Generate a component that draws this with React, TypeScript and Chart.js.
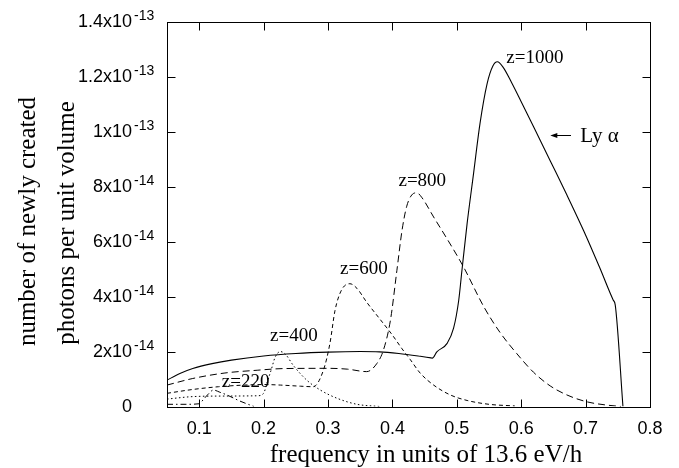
import { useEffect, useRef } from "react";
import { Chart, registerables } from "chart.js";

Chart.register(...registerables);

const UNIT = 1e-14;
const X_MIN = 0.05;
const X_MAX = 0.8;
const Y_MAX = 14; // in units of 1e-14

// z = 1000 (solid)
const z1000X = [0.05, 0.07, 0.09, 0.12, 0.15, 0.2, 0.25, 0.3, 0.35, 0.38, 0.41, 0.44, 0.46, 0.462, 0.469, 0.485, 0.495, 0.503, 0.508, 0.516, 0.526, 0.536, 0.547, 0.556, 0.563, 0.572, 0.585, 0.6, 0.62, 0.645, 0.671, 0.697, 0.722, 0.743, 0.746, 0.758];
const z1000Y = [0.96, 1.2, 1.38, 1.56, 1.69, 1.84, 1.93, 1.98, 2.0, 1.99, 1.93, 1.84, 1.77, 1.76, 1.99, 2.3, 2.85, 3.87, 4.96, 6.66, 8.48, 10.3, 11.75, 12.4, 12.55, 12.35, 11.8, 11.1, 10.15, 8.95, 7.7, 6.4, 5.05, 3.87, 3.7, 0];

// z = 800 (long dashes)
const z800X = [0.05, 0.09, 0.14, 0.19, 0.23, 0.3, 0.33, 0.36, 0.376, 0.386, 0.397, 0.407, 0.415, 0.422, 0.43, 0.438, 0.446, 0.464, 0.485, 0.51, 0.542, 0.567, 0.593, 0.619, 0.645, 0.671, 0.702, 0.73, 0.755];
const z800Y = [0.78, 1.02, 1.22, 1.32, 1.38, 1.39, 1.36, 1.27, 1.57, 2.05, 3.15, 4.96, 6.42, 7.27, 7.7, 7.78, 7.6, 6.9, 6.1, 5.1, 3.63, 2.7, 1.93, 1.25, 0.75, 0.42, 0.17, 0.06, 0.0];

// z = 600 (short dashes)
const z600X = [0.05, 0.09, 0.13, 0.17, 0.2, 0.226, 0.257, 0.277, 0.293, 0.303, 0.311, 0.321, 0.334, 0.345, 0.36, 0.38, 0.4, 0.415, 0.428, 0.443, 0.464, 0.49, 0.516, 0.55, 0.59];
const z600Y = [0.48, 0.62, 0.72, 0.78, 0.8, 0.78, 0.74, 0.72, 1.33, 2.3, 3.51, 4.24, 4.47, 4.3, 3.8, 3.2, 2.6, 2.1, 1.7, 1.22, 0.78, 0.42, 0.22, 0.08, 0.02];

// z = 400 (dotted)
const z400X = [0.05, 0.09, 0.14, 0.19, 0.2, 0.205, 0.212, 0.218, 0.226, 0.234, 0.246, 0.267, 0.288, 0.314, 0.345, 0.38];
const z400Y = [0.27, 0.36, 0.38, 0.39, 0.48, 0.84, 1.35, 1.8, 2.0, 1.9, 1.5, 0.96, 0.6, 0.3, 0.08, 0.0];

// z = 220 (dash-dot)
const z220X = [0.05, 0.08, 0.1, 0.106, 0.114, 0.122, 0.132, 0.143, 0.163, 0.185];
const z220Y = [0.08, 0.08, 0.1, 0.24, 0.45, 0.6, 0.52, 0.42, 0.2, 0.0];

const xTickValues = [0.1, 0.2, 0.3, 0.4, 0.5, 0.6, 0.7, 0.8];
const xTickLabels = ["0.1", "0.2", "0.3", "0.4", "0.5", "0.6", "0.7", "0.8"];
const yTickValues = [0, 2, 4, 6, 8, 10, 12, 14];
const yTickMantissa = ["0", "2x10", "4x10", "6x10", "8x10", "1x10", "1.2x10", "1.4x10"];
const yTickExponent = ["", "-14", "-14", "-14", "-14", "-13", "-13", "-13"];

const xTitle = "frequency in units of 13.6 eV/h";
const yTitleLines = ["number of newly created", "photons per unit volume"];

// curve labels: text, x (data), y (units of 1e-14, baseline)
const labelTexts = ["z=1000", "z=800", "z=600", "z=400", "z=220"];
const labelX = [0.5768, 0.4094, 0.3188, 0.21, 0.135];
const labelY = [12.5, 8.03, 4.82, 2.4, 0.72];
const lyText = "Ly \u03b1";
const lyX = 0.6918;
const lyY = 9.64;
const arrowFromX = 0.6773;
const arrowToX = 0.6452;
const arrowY = 9.886;

const SANS = "'Liberation Sans', Arial, sans-serif";
const SERIF = "'Liberation Serif', 'Times New Roman', serif";

function pts(xs: number[], ys: number[]) {
  return xs.map((x, i) => ({ x, y: ys[i] * UNIT }));
}

const overlay = {
  id: "overlay",
  afterDraw(chart: any) {
    const { ctx, chartArea: a, scales } = chart;
    const xs = scales.x;
    const ys = scales.y;
    ctx.save();
    ctx.strokeStyle = "#000";
    ctx.fillStyle = "#000";
    ctx.lineWidth = 1;
    ctx.setLineDash([]);
    const L = Math.round(a.left) + 0.5;
    const R = Math.round(a.right) + 0.5;
    const T = Math.round(a.top) + 0.5;
    const B = Math.round(a.bottom) + 0.5;
    ctx.strokeRect(L, T, R - L, B - T);
    const tl = 8;
    ctx.beginPath();
    xTickValues.forEach((v) => {
      const px = Math.round(xs.getPixelForValue(v)) + 0.5;
      ctx.moveTo(px, B);
      ctx.lineTo(px, B - tl);
      ctx.moveTo(px, T);
      ctx.lineTo(px, T + tl);
    });
    yTickValues.forEach((v) => {
      const py = Math.round(ys.getPixelForValue(v * UNIT)) + 0.5;
      ctx.moveTo(L, py);
      ctx.lineTo(L + tl, py);
      ctx.moveTo(R, py);
      ctx.lineTo(R - tl, py);
    });
    ctx.stroke();

    // x tick labels
    ctx.font = `18px ${SANS}`;
    ctx.textAlign = "center";
    ctx.textBaseline = "alphabetic";
    xTickValues.forEach((v, i) => {
      ctx.fillText(xTickLabels[i], xs.getPixelForValue(v), 434);
    });

    // y tick labels with superscripts
    yTickValues.forEach((v, i) => {
      const py = ys.getPixelForValue(v * UNIT);
      ctx.font = `18px ${SANS}`;
      ctx.textAlign = "right";
      ctx.fillText(yTickMantissa[i], 132, py + 5);
      if (yTickExponent[i]) {
        ctx.font = `14px ${SANS}`;
        ctx.textAlign = "left";
        ctx.fillText(yTickExponent[i], 134, py - 2);
      }
    });

    // axis titles
    ctx.font = `25px ${SERIF}`;
    ctx.textAlign = "center";
    ctx.textBaseline = "alphabetic";
    ctx.fillText(xTitle, 426, 462);
    const yPos = [
      [28.5, 221.5],
      [67.5, 223],
    ];
    yTitleLines.forEach((t, i) => {
      ctx.save();
      ctx.translate(yPos[i][0], yPos[i][1]);
      ctx.rotate(-Math.PI / 2);
      ctx.textBaseline = "middle";
      ctx.fillText(t, 0, 0);
      ctx.restore();
    });

    // curve labels
    ctx.font = `19px ${SERIF}`;
    ctx.textAlign = "left";
    ctx.textBaseline = "alphabetic";
    labelTexts.forEach((t, i) => {
      ctx.fillText(t, xs.getPixelForValue(labelX[i]), ys.getPixelForValue(labelY[i] * UNIT));
    });
    ctx.font = `21px ${SERIF}`;
    ctx.fillText(lyText, xs.getPixelForValue(lyX), ys.getPixelForValue(lyY * UNIT));

    // Ly alpha arrow
    const ay = Math.round(ys.getPixelForValue(arrowY * UNIT)) + 0.5;
    const ax0 = xs.getPixelForValue(arrowFromX);
    const ax1 = xs.getPixelForValue(arrowToX);
    ctx.beginPath();
    ctx.moveTo(ax0, ay);
    ctx.lineTo(ax1 + 4, ay);
    ctx.stroke();
    ctx.beginPath();
    ctx.moveTo(ax1, ay);
    ctx.lineTo(ax1 + 7, ay - 2.5);
    ctx.lineTo(ax1 + 7, ay + 2.5);
    ctx.closePath();
    ctx.fill();
    ctx.restore();
  },
};

function line(xs: number[], ys: number[], dash: number[], width = 1) {
  return {
    data: pts(xs, ys),
    showLine: true,
    borderColor: "#000",
    backgroundColor: "#000",
    borderWidth: width,
    borderDash: dash,
    pointRadius: 0,
    fill: false,
    cubicInterpolationMode: "monotone" as const,
  };
}

export default function App() {
  const ref = useRef<HTMLCanvasElement | null>(null);
  useEffect(() => {
    if (!ref.current) return;
    const chart = new Chart(ref.current, {
      type: "scatter",
      data: {
        datasets: [
          line(z1000X, z1000Y, [], 1.1),
          line(z800X, z800Y, [7, 4]),
          line(z600X, z600Y, [4, 3]),
          line(z400X, z400Y, [1.5, 2.5]),
          line(z220X, z220Y, [6, 3, 1.5, 3]),
        ],
      },
      options: {
        animation: false,
        responsive: false,
        maintainAspectRatio: false,
        layout: { padding: { left: 0, right: 29, top: 22, bottom: 0 } },
        plugins: { legend: { display: false }, tooltip: { enabled: false } },
        scales: {
          x: {
            type: "linear",
            min: X_MIN,
            max: X_MAX,
            grid: { display: false },
            border: { display: false },
            ticks: { display: false },
            afterFit: (s: any) => {
              s.height = 61.5;
            },
          },
          y: {
            type: "linear",
            min: 0,
            max: Y_MAX * UNIT,
            grid: { display: false },
            border: { display: false },
            ticks: { display: false },
            afterFit: (s: any) => {
              s.width = 167;
            },
          },
        },
      },
      plugins: [overlay],
    });
    return () => chart.destroy();
  }, []);
  return (
    <div style={{ position: "fixed", left: 0, top: 0, width: 679, height: 468, background: "#fff" }}>
      <canvas ref={ref} width={679} height={468} style={{ display: "block" }} />
    </div>
  );
}
